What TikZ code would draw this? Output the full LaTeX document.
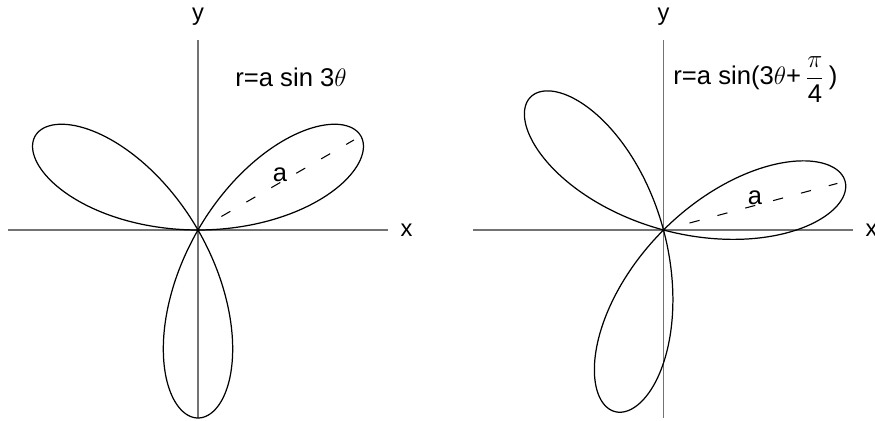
\documentclass[tikz,border=0pt]{standalone}
\usepackage{amsmath}
\usepackage{fontspec}
\setmainfont{Liberation Sans}
\usetikzlibrary{positioning}

\begin{document}
\begin{tikzpicture}[
        x=0.02cm, y=0.02cm,
        ax/.style={draw=black!55, line width=0.6pt},
        petal/.style={draw=black, line width=0.7pt},
        rad/.style={draw=black, line width=0.6pt, dash pattern=on 5.9pt off 10.5pt},
        lbl/.style={inner sep=1pt, font=\fontsize{13.5}{16}\selectfont},
        eq/.style={inner sep=0pt, anchor=base west, font=\fontsize{14.6}{17}\selectfont}
      ]
        \useasboundingbox (0,0) rectangle (875,421);

        % r = a sin 3theta
        \coordinate (o1) at (198,191);
        \coordinate (x1l) at (8,191);   \coordinate (x1r) at (388,191);
        \coordinate (y1b) at (198,3);   \coordinate (y1t) at (198,381);
        \draw[ax] (x1l) -- (x1r);
        \draw[ax] (y1b) -- (y1t);
        \node[lbl, right=6pt of x1r] (xl1) {x};
        \node[lbl, above=7pt of y1t] (yl1) {y};
        \draw[petal, shift={(198,191)}] plot[domain=0:180, samples=361] (\x:{188*sin(3*\x)}) -- cycle;
        \coordinate (s1) at ([shift={(30:27)}]o1);
        \coordinate (t1) at ([shift={(30:180)}]o1);
        \draw[rad] (s1) -- (t1);
        \node[lbl, font=\fontsize{14.5}{17}\selectfont] (a1) at ([shift={(82,55)}]o1) {a};
        \node[eq] (eq1) at (235,334) {r=a sin 3$\theta$};

        % r = a sin(3theta + pi/4)
        \coordinate (o2) at (663.5,191);
        \coordinate (x2l) at (473,191); \coordinate (x2r) at (853,191);
        \coordinate (y2b) at (663.5,3); \coordinate (y2t) at (663.5,381);
        \draw[ax] (x2l) -- (x2r);
        \draw[ax] (y2b) -- (y2t);
        \node[lbl, right=6pt of x2r] (xl2) {x};
        \node[lbl, above=7pt of y2t] (yl2) {y};
        \draw[petal, shift={(663.5,191)}] plot[domain=0:180, samples=361] (\x:{188*sin(3*\x+45)}) -- cycle;
        \coordinate (s2) at ([shift={(15:27)}]o2);
        \coordinate (t2) at ([shift={(15:180)}]o2);
        \draw[rad] (s2) -- (t2);
        \node[lbl, font=\fontsize{14.5}{17}\selectfont] (a2) at ([shift={(91.5,32)}]o2) {a};
        \node[eq] (eq2) at (673,336) {r=a sin(3$\theta$+\,$\dfrac{\pi}{\mbox{4}}$\,)};
      \end{tikzpicture}
\end{document}
